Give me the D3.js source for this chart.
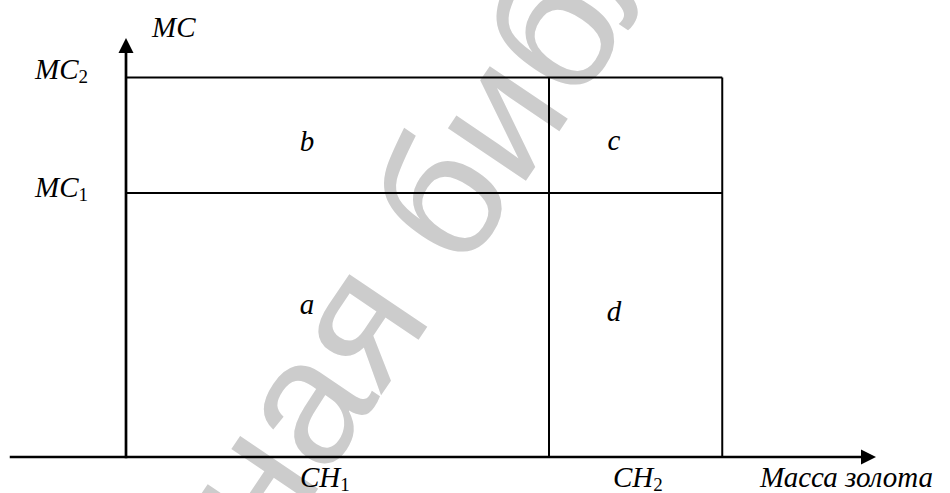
<!DOCTYPE html>
<html>
<head>
<meta charset="utf-8">
<script src="https://cdn.jsdelivr.net/npm/d3@7"></script>
<style>
  html, body { margin: 0; padding: 0; background: #fff; }
  svg { display: block; }
</style>
</head>
<body>
<svg id="chart" width="950" height="493"></svg>
<script>
// ---- data ----
const quantityNames = ["CH", "CH"];        // x-axis marks (with subscripts)
const quantitySubs = ["1", "2"];
const quantityValues = [56.4, 79.5];        // CH1, CH2 in x units (0..100)
const costNames = ["MC", "MC"];             // y-axis marks
const costSubs = ["1", "2"];
const costValues = [63.0, 90.6];            // MC1, MC2 in y units (0..100)
const areaLabels = ["a", "b", "c", "d"];    // a: CH1×MC1, b: CH1×(MC2-MC1), c: (CH2-CH1)×(MC2-MC1), d: (CH2-CH1)×MC1
const xAxisTitle = "Масса золота";
const yAxisTitle = "MC";
const watermarkText = "ная библ";

// ---- layout ----
const SERIF = '"Liberation Serif", "Times New Roman", Times, serif';
const svg = d3.select("#chart");
const x = d3.scaleLinear().domain([0, 100]).range([126, 876]);
const y = d3.scaleLinear().domain([0, 100]).range([457, 38]);
const xAxisStart = -15.5;

// watermark (behind)
svg.append("text")
  .attr("transform", "translate(270,560) rotate(-56)")
  .style("font-family", '"Liberation Sans", Arial, sans-serif')
  .style("font-size", "178px")
  .attr("fill", "#cccccc")
  .text(watermarkText);

const g = svg.append("g");

// rectangle lines
const [CH1, CH2] = quantityValues;
const [MC1, MC2] = costValues;
const rectLines = [
  [[0, MC2], [CH2, MC2]],
  [[0, MC1], [CH2, MC1]],
  [[CH1, MC2], [CH1, 0]],
  [[CH2, MC2], [CH2, 0]]
];
g.selectAll("line.grid").data(rectLines).enter().append("line")
  .attr("class", "grid")
  .attr("x1", d => x(d[0][0])).attr("y1", d => y(d[0][1]))
  .attr("x2", d => x(d[1][0])).attr("y2", d => y(d[1][1]))
  .attr("stroke", "#000").attr("stroke-width", 2);

// axes
const ah = 15, aw = 7.5;
g.append("line")
  .attr("x1", x(xAxisStart)).attr("y1", y(0))
  .attr("x2", x(100) - ah + 1).attr("y2", y(0))
  .attr("stroke", "#000").attr("stroke-width", 2.7);
g.append("path")
  .attr("d", `M${x(100)},${y(0)} L${x(100) - ah},${y(0) - aw} L${x(100) - ah},${y(0) + aw} Z`)
  .attr("fill", "#000");
g.append("line")
  .attr("x1", x(0)).attr("y1", y(0) + 1.3)
  .attr("x2", x(0)).attr("y2", y(100) + ah - 1)
  .attr("stroke", "#000").attr("stroke-width", 2.7);
g.append("path")
  .attr("d", `M${x(0)},${y(100)} L${x(0) - aw},${y(100) + ah} L${x(0) + aw},${y(100) + ah} Z`)
  .attr("fill", "#000");

const FS = 29, SUB = 19;

function serifText(px, py, size) {
  return g.append("text")
    .attr("x", px).attr("y", py)
    .style("font-family", SERIF)
    .style("font-style", "italic")
    .style("font-size", size + "px")
    .attr("fill", "#000");
}

function subLabel(sel, name, sub) {
  sel.append("tspan").text(name);
  sel.append("tspan").attr("dy", 4)
    .style("font-size", SUB + "px")
    .style("font-style", "normal").text(sub);
}

// y-axis value labels
costValues.forEach((v, i) => {
  const t = serifText(35, y(v) + (i === 0 ? 4 : 1.5), FS);
  subLabel(t, costNames[i], costSubs[i]);
});

// x-axis value labels
const chLabelX = [x(0) + 174, x(CH1) + 64];
quantityValues.forEach((v, i) => {
  const t = serifText(chLabelX[i], 487, FS);
  subLabel(t, quantityNames[i], quantitySubs[i]);
});

// axis titles
serifText(152, 37, FS).text(yAxisTitle);
serifText(760, 487, FS).text(xAxisTitle);

// area labels
const leftMid = x(0) + 181, rightMid = x(CH1) + 65;
const areaPos = [
  [leftMid, y(MC1) + 121],
  [leftMid, y(MC2) + 74],
  [rightMid, y(MC2) + 73],
  [rightMid, y(MC1) + 128]
];
areaLabels.forEach((lab, i) => {
  serifText(areaPos[i][0], areaPos[i][1], FS)
    .attr("text-anchor", "middle").text(lab);
});
</script>
</body>
</html>
